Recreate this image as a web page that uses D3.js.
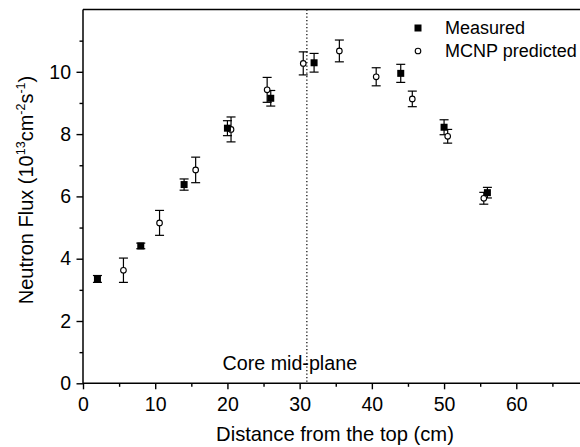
<!DOCTYPE html>
<html>
<head>
<meta charset="utf-8">
<script src="https://cdn.jsdelivr.net/npm/d3@7"></script>
<style>
  body { margin: 0; background: #fff; }
  svg { font-family: "Liberation Sans", Arial, sans-serif; }
</style>
</head>
<body>
<svg class="chart"></svg>
<script>
// measured flux (filled squares)
let measuredX = [2, 8, 14, 20, 26, 32, 44, 50, 56]
let measuredY = [3.35, 4.41, 6.38, 8.19, 9.15, 10.29, 9.95, 8.22, 6.12]
let measuredErr = [0.11, 0.09, 0.18, 0.24, 0.25, 0.3, 0.29, 0.24, 0.17]

// MCNP predicted flux (open circles)
let predictedX = [5.6, 10.6, 15.6, 20.5, 25.5, 30.5, 35.5, 40.6, 45.6, 50.5, 55.5]
let predictedY = [3.63, 5.15, 6.85, 8.15, 9.42, 10.27, 10.67, 9.84, 9.13, 7.93, 5.94]
let predictedErr = [0.39, 0.4, 0.41, 0.4, 0.4, 0.37, 0.35, 0.29, 0.25, 0.22, 0.19]

let xTicks = [0, 10, 20, 30, 40, 50, 60]
let yTicks = [0, 2, 4, 6, 8, 10]
let midPlane = 31

let W = 580, H = 447

let x = d3.scaleLinear().domain([0, 70]).range([83, 588.5])
let y = d3.scaleLinear().domain([0, 12]).range([383.3, 9.5])

let svg = d3.select(".chart")
    .attr("width", W)
    .attr("height", H)

// x axis
let xAxis = svg.append("g")
    .attr("transform", "translate(0," + y(0) + ")")
    .call(d3.axisBottom(x).tickValues(xTicks).tickSize(6).tickPadding(8).tickFormat(d3.format("d")))
xAxis.select(".domain").remove()
xAxis.selectAll("text").attr("font-size", 19.5).attr("font-family", null)
xAxis.selectAll("line").attr("stroke-width", 1.4)

let xMinor = svg.append("g")
    .attr("transform", "translate(0," + y(0) + ")")
    .call(d3.axisBottom(x).tickValues(d3.range(5, 70, 10)).tickSize(3.5).tickFormat(""))
xMinor.select(".domain").remove()
xMinor.selectAll("line").attr("stroke-width", 1.4)

// y axis
let yAxis = svg.append("g")
    .attr("transform", "translate(" + x(0) + ",0)")
    .call(d3.axisLeft(y).tickValues(yTicks).tickSize(6.5).tickPadding(5.5).tickFormat(d3.format("d")))
yAxis.select(".domain").remove()
yAxis.selectAll("text").attr("font-size", 19.5).attr("font-family", null)
yAxis.selectAll("line").attr("stroke-width", 1.4)

let yMinor = svg.append("g")
    .attr("transform", "translate(" + x(0) + ",0)")
    .call(d3.axisLeft(y).tickValues(d3.range(1, 12, 2)).tickSize(3.5).tickFormat(""))
yMinor.select(".domain").remove()
yMinor.selectAll("line").attr("stroke-width", 1.4)

// frame lines
svg.append("line")
    .attr("x1", x(0)).attr("x2", W)
    .attr("y1", y(0)).attr("y2", y(0))
    .attr("stroke", "#000").attr("stroke-width", 1.5)
svg.append("line")
    .attr("x1", x(0)).attr("x2", W)
    .attr("y1", y(12)).attr("y2", y(12))
    .attr("stroke", "#000").attr("stroke-width", 1.5)
svg.append("line")
    .attr("x1", x(0)).attr("x2", x(0))
    .attr("y1", y(0)).attr("y2", y(12))
    .attr("stroke", "#000").attr("stroke-width", 1.5)

// core mid-plane
svg.append("text")
    .attr("x", 222.5)
    .attr("y", 370)
    .attr("font-size", 19.7)
    .text("Core mid-plane")

svg.append("line")
    .attr("x1", x(midPlane)).attr("x2", x(midPlane))
    .attr("y1", y(12)).attr("y2", y(0))
    .attr("stroke", "#000")
    .attr("stroke-width", 1.2)
    .attr("stroke-dasharray", "1.3,2.2")

function errorBars(xs, ys, errs, cap) {
  let g = svg.append("g").attr("stroke", "#000").attr("stroke-width", 1.2)
  xs.forEach(function(xv, i) {
    let cx = x(xv)
    let top = y(ys[i] + errs[i]), bot = y(ys[i] - errs[i])
    g.append("line").attr("x1", cx).attr("x2", cx).attr("y1", top).attr("y2", bot)
    g.append("line").attr("x1", cx - cap).attr("x2", cx + cap).attr("y1", top).attr("y2", top)
    g.append("line").attr("x1", cx - cap).attr("x2", cx + cap).attr("y1", bot).attr("y2", bot)
  })
}

errorBars(predictedX, predictedY, predictedErr, 4.5)
errorBars(measuredX, measuredY, measuredErr, 4.5)

svg.append("g").selectAll("circle")
    .data(predictedX)
  .enter().append("circle")
    .attr("cx", function(d) { return x(d) })
    .attr("cy", function(d, i) { return y(predictedY[i]) })
    .attr("r", 2.8)
    .attr("fill", "#fff")
    .attr("stroke", "#000")
    .attr("stroke-width", 1.1)

svg.append("g").selectAll("rect")
    .data(measuredX)
  .enter().append("rect")
    .attr("x", function(d) { return x(d) - 3.5 })
    .attr("y", function(d, i) { return y(measuredY[i]) - 3.5 })
    .attr("width", 7)
    .attr("height", 7)
    .attr("fill", "#000")

// legend
let legend = svg.append("g").attr("font-size", 18)
legend.append("rect")
    .attr("x", 414.5).attr("y", 24.5).attr("width", 7).attr("height", 7)
    .attr("fill", "#000")
legend.append("text").attr("x", 445).attr("y", 34).text("Measured")
legend.append("circle")
    .attr("cx", 418).attr("cy", 51).attr("r", 2.8)
    .attr("fill", "#fff").attr("stroke", "#000").attr("stroke-width", 1.1)
legend.append("text").attr("x", 445).attr("y", 57).text("MCNP predicted")

// axis titles
svg.append("text")
    .attr("x", 335)
    .attr("y", 441)
    .attr("text-anchor", "middle")
    .attr("font-size", 20.2)
    .text("Distance from the top (cm)")

let yTitle = svg.append("text")
    .attr("transform", "translate(33,190) rotate(-90)")
    .attr("text-anchor", "middle")
    .attr("font-size", 20)
yTitle.append("tspan").text("Neutron Flux (10")
yTitle.append("tspan").attr("font-size", 12.5).attr("dy", -8).text("13")
yTitle.append("tspan").attr("dy", 8).text("cm")
yTitle.append("tspan").attr("font-size", 12.5).attr("dy", -8).text("-2")
yTitle.append("tspan").attr("dy", 8).text("s")
yTitle.append("tspan").attr("font-size", 12.5).attr("dy", -8).text("-1")
yTitle.append("tspan").attr("dy", 8).text(")")
</script>
</body>
</html>
